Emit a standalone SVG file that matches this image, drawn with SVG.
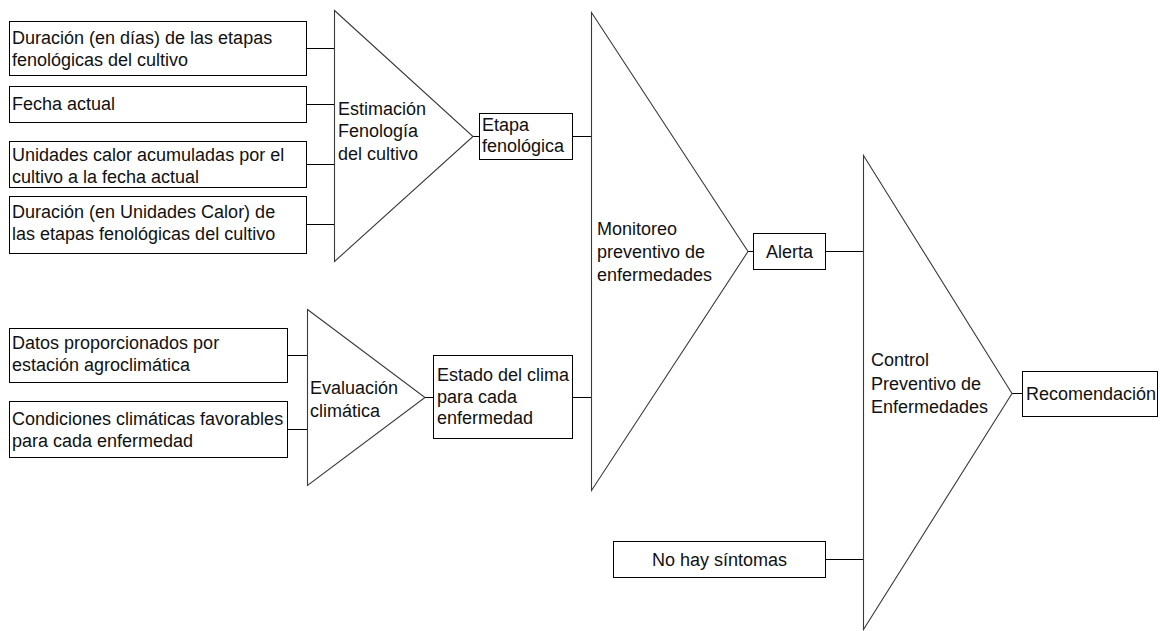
<svg xmlns="http://www.w3.org/2000/svg" width="1160" height="631" viewBox="0 0 1160 631">
<style>
.box{fill:#fff;stroke:#000;stroke-width:1}
.tri{fill:#fff;stroke:#3a3a3a;stroke-width:1.1}
.con{stroke:#000;stroke-width:1;fill:none}
text{font-family:"Liberation Sans",Arial,sans-serif;font-size:18px;fill:#111}
</style>
<rect width="1160" height="631" fill="#fff"/>
<g id="connectors">
<line class="con" x1="306.5" y1="48.5" x2="334.5" y2="48.5"/>
<line class="con" x1="306.5" y1="104.5" x2="334.5" y2="104.5"/>
<line class="con" x1="306.5" y1="164.5" x2="334.5" y2="164.5"/>
<line class="con" x1="306.5" y1="224.5" x2="334.5" y2="224.5"/>
<line class="con" x1="473" y1="136.5" x2="479.5" y2="136.5"/>
<line class="con" x1="572.5" y1="136.5" x2="591.5" y2="136.5"/>
<line class="con" x1="287.5" y1="355.5" x2="307.5" y2="355.5"/>
<line class="con" x1="287.5" y1="429.5" x2="307.5" y2="429.5"/>
<line class="con" x1="425" y1="397.5" x2="433.5" y2="397.5"/>
<line class="con" x1="572.5" y1="397.5" x2="591.5" y2="397.5"/>
<line class="con" x1="748" y1="251.5" x2="753.5" y2="251.5"/>
<line class="con" x1="825.5" y1="251.5" x2="863.5" y2="251.5"/>
<line class="con" x1="825.5" y1="559.5" x2="863.5" y2="559.5"/>
<line class="con" x1="1012" y1="393.5" x2="1022.5" y2="393.5"/>
</g>
<g id="in1"><rect class="box" x="9.5" y="21.5" width="297" height="54"/><text x="12" y="44">Duración (en días) de las etapas</text><text x="12" y="66">fenológicas del cultivo</text></g>
<g id="in2"><rect class="box" x="9.5" y="86.5" width="297" height="36"/><text x="12" y="110">Fecha actual</text></g>
<g id="in3"><rect class="box" x="9.5" y="141.5" width="297" height="46"/><text x="12" y="161">Unidades calor acumuladas por el</text><text x="12" y="183">cultivo a la fecha actual</text></g>
<g id="in4"><rect class="box" x="9.5" y="196.5" width="297" height="57"/><text x="12" y="218">Duración (en Unidades Calor) de</text><text x="12" y="240">las etapas fenológicas del cultivo</text></g>
<g id="fenologia"><polygon class="tri" points="334.5,10.5 473,136.5 334.5,261.5"/><text x="338" y="115">Estimación</text><text x="338" y="137">Fenología</text><text x="338" y="160">del cultivo</text></g>
<g id="etapa"><rect class="box" x="479.5" y="113.5" width="93" height="46"/><text x="482" y="131">Etapa</text><text x="482" y="152">fenológica</text></g>
<g id="datos"><rect class="box" x="9.5" y="328.5" width="278" height="54"/><text x="12" y="349">Datos proporcionados por</text><text x="12" y="371">estación agroclimática</text></g>
<g id="condiciones"><rect class="box" x="9.5" y="401.5" width="278" height="56"/><text x="12" y="425">Condiciones climáticas favorables</text><text x="12" y="447">para cada enfermedad</text></g>
<g id="evaluacion"><polygon class="tri" points="307.5,309.5 425,397.5 307.5,485.5"/><text x="310" y="394">Evaluación</text><text x="310" y="417">climática</text></g>
<g id="estado"><rect class="box" x="433.5" y="355.5" width="139" height="83"/><text x="437" y="381">Estado del clima</text><text x="437" y="403">para cada</text><text x="437" y="424">enfermedad</text></g>
<g id="monitoreo"><polygon class="tri" points="591.5,12.5 748,251.5 591.5,490.5"/><text x="597" y="235">Monitoreo</text><text x="597" y="258">preventivo de</text><text x="597" y="281">enfermedades</text></g>
<g id="alerta"><rect class="box" x="753.5" y="233.5" width="72" height="36"/><text x="789.5" y="258" text-anchor="middle">Alerta</text></g>
<g id="nohay"><rect class="box" x="613.5" y="541.5" width="212" height="36"/><text x="719.5" y="566" text-anchor="middle">No hay síntomas</text></g>
<g id="control"><polygon class="tri" points="863.5,155.5 1012,393.5 863.5,629.5"/><text x="871" y="366">Control</text><text x="871" y="390">Preventivo de</text><text x="871" y="413">Enfermedades</text></g>
<g id="recomendacion"><rect class="box" x="1022.5" y="371.5" width="135" height="45"/><text x="1026" y="400">Recomendación</text></g>
</svg>
